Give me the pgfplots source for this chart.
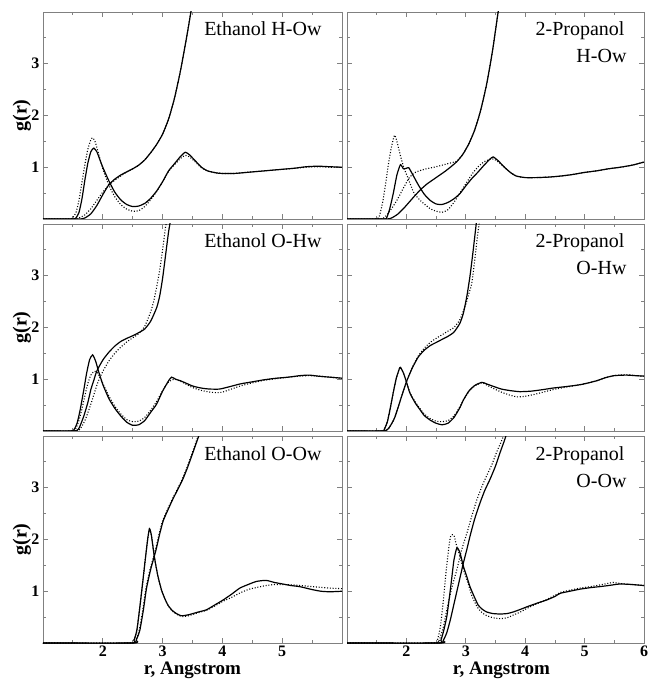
\documentclass[border=0pt]{standalone}
\usepackage{pgfplots}
\pgfplotsset{compat=1.18}
\usepackage{fontspec}
\setmainfont{Liberation Serif}

\pgfplotsset{
  panel/.style={
    scale only axis, height=207pt, anchor=south west,
    xmin=1, xmax=6, ymin=0, ymax=4,
    axis line style={gray, line width=0.9pt},
    tick align=inside, major tick length=5pt, minor tick length=3pt,
    every tick/.style={gray, line width=0.8pt},
    xtick={2,3,4,5,6}, minor xtick={1.5,2.5,3.5,4.5,5.5},
    ytick={1,2,3}, minor ytick={0.5,1.5,2.5,3.5},
    xticklabels={}, yticklabels={},
    tick label style={font=\fontsize{16}{16}\selectfont\bfseries},
    xticklabel style={yshift=1pt},
    /pgf/number format/assume math mode=true,
    label style={font=\fontsize{19}{19}\selectfont\bfseries},
    ylabel style={at={(axis description cs:-0.071,0.5)}, anchor=center,
                  font=\fontsize{20}{20}\selectfont\bfseries},
    xlabel style={at={(axis description cs:0.5,0)}, yshift=-27pt, anchor=center},
  },
  leftcol/.style={panel, width=299pt, yticklabels={1,2,3}, ylabel={g(r)}},
  rightcol/.style={panel, width=297pt},
  sol/.style={black, line width=1.2pt, smooth, tension=0.35},
  dot/.style={black, line width=1.1pt, dash pattern=on 1pt off 1.8pt, smooth, tension=0.35},
}
\newcommand\paneltitle[1]{\node[anchor=base east, font=\fontsize{20}{20}\selectfont]
  at (rel axis cs:1,1) [xshift=-17pt, yshift=-24pt] {#1};}
\newcommand\paneltitletwo[2]{%
  \node[anchor=base east, font=\fontsize{20}{20}\selectfont]
    at (rel axis cs:1,1) [xshift=-16pt, yshift=-24pt] {#1};
  \node[anchor=base east, font=\fontsize{20}{20}\selectfont]
    at (rel axis cs:1,1) [xshift=-14pt, yshift=-51pt] {#2};}

\begin{document}
\begin{tikzpicture}
\useasboundingbox (0pt,0pt) rectangle (647pt,679pt);

% ---------------- Ethanol H-Ow ----------------
\begin{axis}[leftcol, at={(43pt,460pt)}]
\addplot[sol] coordinates {(1.0,0) (1.5,0) (1.55,0.02) (1.6,0.12) (1.65,0.38) (1.7,0.75) (1.75,1.08) (1.8,1.3) (1.85,1.37) (1.9,1.3) (1.95,1.15) (2.0,1.0) (2.1,0.74) (2.2,0.52) (2.3,0.37) (2.4,0.28) (2.5,0.24) (2.6,0.25) (2.7,0.3) (2.8,0.4) (2.9,0.54) (3.0,0.72) (3.1,0.93) (3.2,1.07) (3.3,1.21) (3.38,1.29) (3.45,1.24) (3.55,1.12) (3.65,1.0) (3.75,0.93) (3.9,0.89) (4.0,0.88) (4.2,0.88) (4.4,0.9) (4.6,0.92) (4.8,0.94) (5.0,0.96) (5.2,0.98) (5.4,1.01) (5.6,1.02) (5.8,1.01) (6.0,1.0)};
\addplot[dot] coordinates {(1.0,0) (1.45,0) (1.5,0.03) (1.55,0.12) (1.6,0.35) (1.65,0.7) (1.7,1.05) (1.75,1.35) (1.8,1.53) (1.83,1.57) (1.87,1.5) (1.92,1.3) (2.0,0.97) (2.1,0.66) (2.2,0.43) (2.3,0.28) (2.4,0.19) (2.5,0.15) (2.6,0.16) (2.7,0.24) (2.8,0.37) (2.9,0.53) (3.0,0.72) (3.1,0.92) (3.2,1.05) (3.3,1.17) (3.38,1.23) (3.45,1.2) (3.55,1.1) (3.65,0.99) (3.75,0.93) (3.9,0.89) (4.0,0.88) (4.2,0.88) (4.4,0.9) (4.6,0.92) (4.8,0.94) (5.0,0.96) (5.2,0.98) (5.4,1.0) (5.6,1.01) (5.8,1.0) (6.0,1.0)};
\addplot[sol] coordinates {(1.0,0) (1.6,0) (1.7,0.02) (1.8,0.1) (1.9,0.26) (2.0,0.47) (2.1,0.66) (2.2,0.77) (2.3,0.85) (2.4,0.91) (2.5,0.97) (2.6,1.04) (2.7,1.14) (2.8,1.28) (2.9,1.44) (3.0,1.64) (3.1,1.93) (3.2,2.34) (3.3,2.87) (3.4,3.5) (3.48,4.05)};
\addplot[dot] coordinates {(1.0,0) (1.5,0) (1.6,0.02) (1.7,0.08) (1.8,0.2) (1.9,0.36) (2.0,0.52) (2.1,0.65) (2.2,0.75) (2.3,0.83) (2.4,0.91) (2.5,0.97) (2.6,1.04) (2.7,1.14) (2.8,1.28) (2.9,1.44) (3.0,1.64) (3.1,1.93) (3.2,2.34) (3.3,2.87) (3.4,3.5) (3.48,4.05)};
\paneltitle{Ethanol H-Ow}
\end{axis}

% ---------------- 2-Propanol H-Ow ----------------
\begin{axis}[rightcol, at={(347pt,460pt)}]
\addplot[sol] coordinates {(1.0,0) (1.62,0) (1.67,0.03) (1.72,0.2) (1.78,0.5) (1.84,0.85) (1.9,1.05) (1.95,0.97) (2.0,0.98) (2.04,0.99) (2.1,0.87) (2.2,0.66) (2.3,0.48) (2.4,0.36) (2.5,0.29) (2.6,0.28) (2.7,0.32) (2.8,0.39) (2.9,0.49) (3.0,0.64) (3.1,0.78) (3.2,0.9) (3.3,1.03) (3.4,1.15) (3.46,1.2) (3.55,1.12) (3.65,1.0) (3.75,0.9) (3.85,0.83) (4.0,0.8) (4.2,0.8) (4.4,0.81) (4.6,0.83) (4.8,0.86) (5.0,0.9) (5.2,0.93) (5.4,0.97) (5.6,1.0) (5.8,1.04) (6.0,1.1)};
\addplot[dot] coordinates {(1.0,0) (1.5,0) (1.55,0.08) (1.6,0.32) (1.65,0.68) (1.7,1.08) (1.75,1.4) (1.8,1.62) (1.84,1.5) (1.9,1.22) (1.96,0.98) (2.02,0.81) (2.12,0.52) (2.23,0.36) (2.4,0.2) (2.5,0.15) (2.6,0.13) (2.7,0.18) (2.8,0.32) (2.9,0.5) (3.0,0.68) (3.1,0.86) (3.2,1.0) (3.3,1.1) (3.4,1.15) (3.47,1.16) (3.55,1.1) (3.65,1.0) (3.75,0.9) (3.85,0.83) (4.0,0.8) (4.2,0.8) (4.4,0.81) (4.6,0.83) (4.8,0.86) (5.0,0.9) (5.2,0.93) (5.4,0.97) (5.6,1.0) (5.8,1.04) (6.0,1.1)};
\addplot[sol] coordinates {(1.0,0) (1.65,0) (1.75,0.02) (1.85,0.09) (1.95,0.2) (2.05,0.33) (2.15,0.46) (2.25,0.58) (2.35,0.68) (2.45,0.76) (2.55,0.84) (2.65,0.92) (2.75,1.01) (2.85,1.11) (2.95,1.25) (3.05,1.45) (3.15,1.72) (3.25,2.1) (3.35,2.6) (3.45,3.25) (3.55,4.05)};
\addplot[dot] coordinates {(1.0,0) (1.55,0) (1.65,0.05) (1.75,0.2) (1.85,0.38) (1.95,0.6) (2.05,0.8) (2.15,0.9) (2.3,0.96) (2.5,1.01) (2.7,1.07) (2.85,1.12) (2.95,1.25) (3.05,1.45) (3.15,1.72) (3.25,2.1) (3.35,2.6) (3.45,3.25) (3.55,4.05)};
\paneltitletwo{2-Propanol}{H-Ow}
\end{axis}

% ---------------- Ethanol O-Hw ----------------
\begin{axis}[leftcol, at={(43pt,248pt)}]
\addplot[sol] coordinates {(1.0,0) (1.47,0) (1.52,0.03) (1.57,0.15) (1.62,0.4) (1.68,0.78) (1.73,1.12) (1.78,1.38) (1.83,1.47) (1.88,1.35) (1.93,1.15) (2.0,0.9) (2.1,0.63) (2.2,0.44) (2.3,0.29) (2.4,0.17) (2.5,0.11) (2.6,0.12) (2.7,0.2) (2.8,0.36) (2.9,0.52) (3.0,0.77) (3.1,0.97) (3.15,1.04) (3.22,1.0) (3.3,0.97) (3.4,0.92) (3.5,0.87) (3.6,0.84) (3.7,0.82) (3.8,0.81) (3.95,0.81) (4.1,0.85) (4.3,0.91) (4.5,0.95) (4.7,0.99) (4.9,1.02) (5.1,1.04) (5.3,1.07) (5.45,1.08) (5.6,1.06) (5.8,1.04) (6.0,1.02)};
\addplot[dot] coordinates {(1.0,0) (1.5,0) (1.55,0.05) (1.6,0.2) (1.65,0.42) (1.7,0.68) (1.75,0.92) (1.8,1.08) (1.85,1.15) (1.9,1.14) (1.95,1.05) (2.0,0.92) (2.1,0.68) (2.2,0.48) (2.3,0.33) (2.4,0.22) (2.5,0.18) (2.6,0.19) (2.7,0.26) (2.8,0.4) (2.9,0.57) (3.0,0.78) (3.1,0.95) (3.2,1.0) (3.3,0.96) (3.4,0.9) (3.5,0.84) (3.6,0.8) (3.7,0.77) (3.8,0.75) (3.9,0.74) (4.0,0.75) (4.1,0.79) (4.3,0.87) (4.5,0.93) (4.7,0.98) (4.9,1.01) (5.1,1.04) (5.3,1.06) (5.45,1.07) (5.6,1.06) (5.8,1.04) (6.0,1.02)};
\addplot[sol] coordinates {(1.0,0) (1.52,0) (1.6,0.05) (1.68,0.28) (1.75,0.55) (1.8,0.8) (1.85,0.98) (1.9,1.16) (2.0,1.37) (2.1,1.52) (2.2,1.64) (2.3,1.73) (2.4,1.79) (2.5,1.84) (2.6,1.9) (2.7,1.97) (2.8,2.12) (2.9,2.38) (2.95,2.6) (3.0,2.95) (3.05,3.4) (3.1,3.85) (3.13,4.05)};
\addplot[dot] coordinates {(1.0,0) (1.55,0) (1.62,0.04) (1.7,0.2) (1.78,0.45) (1.85,0.7) (1.92,0.95) (2.0,1.15) (2.1,1.35) (2.2,1.5) (2.3,1.62) (2.4,1.72) (2.5,1.8) (2.6,1.88) (2.7,2.02) (2.8,2.3) (2.85,2.5) (2.9,2.78) (2.95,3.1) (3.0,3.5) (3.05,3.95) (3.07,4.05)};
\paneltitle{Ethanol O-Hw}
\end{axis}

% ---------------- 2-Propanol O-Hw ----------------
\begin{axis}[rightcol, at={(347pt,248pt)}]
\addplot[sol] coordinates {(1.0,0) (1.58,0) (1.63,0.04) (1.68,0.18) (1.73,0.45) (1.78,0.75) (1.83,1.02) (1.88,1.2) (1.9,1.23) (1.95,1.12) (2.0,0.95) (2.06,0.73) (2.15,0.54) (2.23,0.41) (2.3,0.3) (2.4,0.21) (2.5,0.15) (2.6,0.12) (2.7,0.15) (2.8,0.26) (2.9,0.45) (2.96,0.6) (3.05,0.77) (3.15,0.88) (3.27,0.94) (3.35,0.91) (3.47,0.86) (3.6,0.81) (3.75,0.78) (3.91,0.76) (4.1,0.77) (4.3,0.8) (4.47,0.83) (4.7,0.86) (4.9,0.89) (5.03,0.92) (5.2,0.97) (5.35,1.03) (5.5,1.07) (5.7,1.08) (5.85,1.07) (6.0,1.06)};
\addplot[dot] coordinates {(1.0,0) (1.58,0) (1.63,0.04) (1.68,0.18) (1.73,0.45) (1.78,0.75) (1.83,1.02) (1.88,1.2) (1.9,1.23) (1.95,1.12) (2.0,0.95) (2.06,0.74) (2.15,0.56) (2.23,0.43) (2.3,0.33) (2.4,0.24) (2.5,0.19) (2.6,0.18) (2.7,0.2) (2.8,0.29) (2.9,0.47) (2.96,0.6) (3.05,0.76) (3.15,0.87) (3.27,0.93) (3.35,0.89) (3.47,0.82) (3.6,0.75) (3.75,0.69) (3.86,0.66) (4.0,0.67) (4.2,0.72) (4.47,0.8) (4.7,0.85) (4.9,0.89) (5.03,0.92) (5.2,0.97) (5.35,1.03) (5.5,1.07) (5.7,1.09) (5.85,1.07) (6.0,1.06)};
\addplot[sol] coordinates {(1.0,0) (1.6,0) (1.7,0.05) (1.8,0.25) (1.9,0.6) (2.0,0.95) (2.1,1.22) (2.2,1.43) (2.3,1.56) (2.4,1.65) (2.5,1.71) (2.6,1.77) (2.7,1.83) (2.8,1.91) (2.9,2.08) (2.96,2.28) (3.02,2.62) (3.07,2.99) (3.12,3.45) (3.18,4.05)};
\addplot[dot] coordinates {(1.0,0) (1.6,0) (1.7,0.05) (1.8,0.25) (1.9,0.6) (2.0,0.95) (2.1,1.23) (2.2,1.45) (2.3,1.6) (2.4,1.71) (2.5,1.79) (2.6,1.86) (2.7,1.93) (2.8,2.0) (2.9,2.15) (3.0,2.45) (3.05,2.65) (3.1,2.85) (3.15,3.3) (3.2,3.8) (3.23,4.05)};
\paneltitletwo{2-Propanol}{O-Hw}
\end{axis}

% ---------------- Ethanol O-Ow ----------------
\begin{axis}[leftcol, at={(43pt,36pt)}, xticklabels={2,3,4,5}, xlabel={r, Angstrom}]
\addplot[sol] coordinates {(1.0,0) (2.47,0) (2.52,0.05) (2.57,0.25) (2.62,0.7) (2.67,1.2) (2.71,1.61) (2.75,2.0) (2.78,2.21) (2.81,2.1) (2.84,1.85) (2.87,1.61) (2.92,1.3) (2.98,1.03) (3.04,0.85) (3.09,0.73) (3.16,0.63) (3.23,0.57) (3.3,0.53) (3.36,0.53) (3.45,0.55) (3.51,0.57) (3.6,0.6) (3.73,0.64) (3.85,0.72) (4.01,0.83) (4.15,0.94) (4.29,1.06) (4.43,1.13) (4.57,1.19) (4.73,1.21) (4.87,1.17) (5.01,1.14) (5.15,1.11) (5.29,1.09) (5.4,1.06) (5.51,1.03) (5.65,1.0) (5.8,0.99) (6.0,1.0)};
\addplot[dot] coordinates {(1.0,0) (2.47,0) (2.52,0.05) (2.57,0.25) (2.62,0.7) (2.67,1.2) (2.71,1.61) (2.75,2.0) (2.78,2.2) (2.81,2.1) (2.84,1.85) (2.87,1.61) (2.92,1.3) (2.98,1.03) (3.04,0.85) (3.09,0.73) (3.16,0.62) (3.23,0.56) (3.3,0.52) (3.36,0.51) (3.45,0.53) (3.55,0.57) (3.73,0.63) (3.85,0.7) (4.0,0.8) (4.15,0.88) (4.3,0.97) (4.45,1.04) (4.6,1.08) (4.73,1.11) (4.87,1.13) (5.0,1.13) (5.2,1.12) (5.4,1.1) (5.6,1.08) (5.8,1.06) (6.0,1.05)};
\addplot[sol] coordinates {(1.0,0) (2.5,0) (2.56,0.06) (2.62,0.25) (2.68,0.65) (2.73,1.05) (2.8,1.42) (2.89,1.8) (2.95,2.1) (3.01,2.36) (3.1,2.6) (3.18,2.8) (3.26,2.98) (3.34,3.17) (3.42,3.4) (3.51,3.69) (3.58,3.92) (3.62,4.05)};
\addplot[dot] coordinates {(1.0,0) (2.49,0) (2.55,0.06) (2.61,0.25) (2.67,0.65) (2.72,1.05) (2.79,1.42) (2.88,1.8) (2.94,2.1) (3.0,2.36) (3.09,2.6) (3.17,2.8) (3.25,2.98) (3.33,3.17) (3.41,3.4) (3.5,3.69) (3.57,3.92) (3.61,4.05)};
\paneltitle{Ethanol O-Ow}
\end{axis}

% ---------------- 2-Propanol O-Ow ----------------
\begin{axis}[rightcol, at={(347pt,36pt)}, xticklabels={2,3,4,5,6}, xlabel={r, Angstrom},
  xlabel style={xshift=6pt}]
\addplot[sol] coordinates {(1.0,0) (2.53,0) (2.58,0.05) (2.63,0.25) (2.68,0.51) (2.72,0.85) (2.76,1.22) (2.8,1.6) (2.85,1.84) (2.9,1.75) (2.96,1.48) (3.02,1.27) (3.07,1.09) (3.14,0.9) (3.21,0.73) (3.28,0.65) (3.35,0.6) (3.45,0.57) (3.58,0.56) (3.7,0.57) (3.8,0.6) (3.92,0.65) (4.03,0.7) (4.2,0.77) (4.36,0.83) (4.5,0.9) (4.59,0.96) (4.75,1.0) (4.92,1.04) (5.1,1.07) (5.26,1.09) (5.4,1.11) (5.59,1.14) (5.8,1.13) (6.0,1.11)};
\addplot[dot] coordinates {(1.0,0) (2.47,0) (2.52,0.05) (2.57,0.3) (2.62,0.8) (2.67,1.4) (2.72,1.9) (2.75,2.08) (2.8,2.08) (2.84,1.9) (2.9,1.68) (2.96,1.42) (3.02,1.22) (3.1,0.92) (3.19,0.7) (3.27,0.59) (3.35,0.53) (3.45,0.49) (3.58,0.47) (3.7,0.49) (3.8,0.54) (3.92,0.6) (4.03,0.67) (4.2,0.76) (4.36,0.84) (4.5,0.92) (4.6,0.98) (4.75,1.02) (4.92,1.06) (5.1,1.09) (5.3,1.13) (5.48,1.17) (5.6,1.15) (5.8,1.13) (6.0,1.11)};
\addplot[sol] coordinates {(1.0,0) (2.56,0) (2.62,0.05) (2.68,0.2) (2.74,0.45) (2.79,0.7) (2.85,1.0) (2.91,1.3) (2.96,1.55) (3.02,1.82) (3.07,2.06) (3.15,2.4) (3.24,2.71) (3.32,2.95) (3.41,3.17) (3.5,3.42) (3.58,3.69) (3.64,3.88) (3.69,4.05)};
\addplot[dot] coordinates {(1.0,0) (2.49,0) (2.55,0.05) (2.62,0.3) (2.68,0.64) (2.76,1.05) (2.85,1.42) (2.93,1.8) (3.02,2.13) (3.1,2.45) (3.19,2.78) (3.27,3.02) (3.35,3.23) (3.44,3.45) (3.52,3.69) (3.6,3.9) (3.65,4.05)};
\paneltitletwo{2-Propanol}{O-Ow}
\end{axis}
\end{tikzpicture}
\end{document}
